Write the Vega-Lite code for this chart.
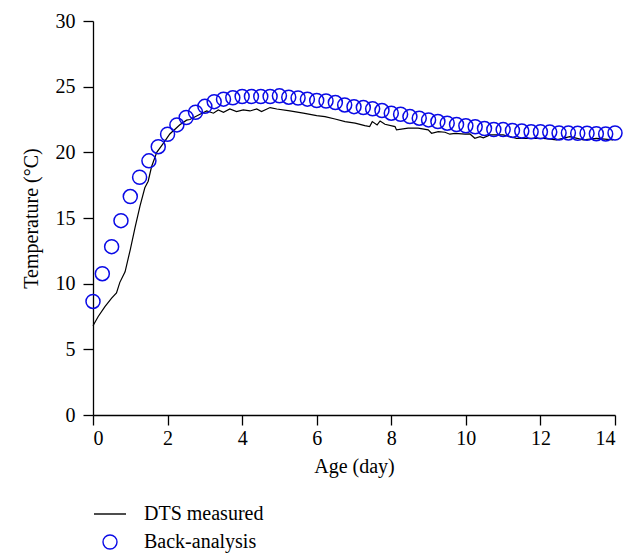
{
  "$schema": "https://vega.github.io/schema/vega-lite/v6.json",
  "autosize": {"type": "none"},
  "width": 522,
  "height": 394,
  "padding": {"left": 93, "top": 21, "right": 19, "bottom": 139},
  "background": "white",
  "config": {
    "view": {"stroke": null},
    "font": "Liberation Serif",
    "axis": {
      "labelFont": "Liberation Serif",
      "titleFont": "Liberation Serif",
      "labelFontSize": 20,
      "titleFontSize": 20,
      "titleFontWeight": "normal",
      "labelColor": "black",
      "titleColor": "black",
      "domainColor": "black",
      "tickColor": "black",
      "domainWidth": 1.3,
      "tickWidth": 1.3,
      "tickSize": 10,
      "grid": false
    },
    "legend": {
      "labelFont": "Liberation Serif",
      "labelFontSize": 20,
      "labelColor": "black"
    }
  },
  "datasets": {
    "dts": [
      {"age": 0, "temp": 6.8}, {"age": 0.14, "temp": 7.5}, {"age": 0.32, "temp": 8.25},
      {"age": 0.5, "temp": 8.9}, {"age": 0.63, "temp": 9.3}, {"age": 0.72, "temp": 10.1},
      {"age": 0.86, "temp": 10.9}, {"age": 1.0, "temp": 12.6}, {"age": 1.13, "temp": 14.3},
      {"age": 1.26, "temp": 15.9}, {"age": 1.39, "temp": 17.3}, {"age": 1.48, "temp": 17.8},
      {"age": 1.57, "temp": 18.9}, {"age": 1.71, "temp": 20.0}, {"age": 1.89, "temp": 20.7},
      {"age": 2.06, "temp": 21.4}, {"age": 2.33, "temp": 22.1}, {"age": 2.51, "temp": 22.45},
      {"age": 2.6, "temp": 22.5}, {"age": 2.87, "temp": 22.9}, {"age": 3.05, "temp": 23.15},
      {"age": 3.23, "temp": 22.98}, {"age": 3.36, "temp": 23.23}, {"age": 3.5, "temp": 23.05},
      {"age": 3.67, "temp": 23.3}, {"age": 3.85, "temp": 23.1}, {"age": 4.03, "temp": 23.23},
      {"age": 4.21, "temp": 23.15}, {"age": 4.39, "temp": 23.3}, {"age": 4.52, "temp": 23.1},
      {"age": 4.75, "temp": 23.41}, {"age": 4.93, "temp": 23.3}, {"age": 5.28, "temp": 23.15},
      {"age": 5.64, "temp": 22.98}, {"age": 6.0, "temp": 22.8}, {"age": 6.22, "temp": 22.72},
      {"age": 6.49, "temp": 22.54}, {"age": 6.76, "temp": 22.34}, {"age": 7.03, "temp": 22.22},
      {"age": 7.29, "temp": 22.03}, {"age": 7.42, "temp": 21.96}, {"age": 7.49, "temp": 22.34},
      {"age": 7.62, "temp": 22.09}, {"age": 7.7, "temp": 22.39}, {"age": 7.83, "temp": 22.14},
      {"age": 8.1, "temp": 21.96}, {"age": 8.14, "temp": 21.71}, {"age": 8.45, "temp": 21.84},
      {"age": 8.72, "temp": 21.84}, {"age": 8.99, "temp": 21.71}, {"age": 9.08, "temp": 21.45},
      {"age": 9.26, "temp": 21.58}, {"age": 9.44, "temp": 21.53}, {"age": 9.57, "temp": 21.38},
      {"age": 9.71, "temp": 21.45}, {"age": 9.98, "temp": 21.38}, {"age": 10.11, "temp": 21.4},
      {"age": 10.24, "temp": 21.07}, {"age": 10.38, "temp": 21.2}, {"age": 10.47, "temp": 21.1},
      {"age": 10.65, "temp": 21.33}, {"age": 11.0, "temp": 21.33}, {"age": 11.36, "temp": 21.07},
      {"age": 11.72, "temp": 21.07}, {"age": 12.08, "temp": 21.07}, {"age": 12.43, "temp": 20.95},
      {"age": 12.79, "temp": 21.2}, {"age": 13.15, "temp": 20.95}, {"age": 13.5, "temp": 21.07},
      {"age": 13.95, "temp": 20.95}
    ],
    "back": [
      {"age": 0, "temp": 8.65}, {"age": 0.25, "temp": 10.76}, {"age": 0.5, "temp": 12.82},
      {"age": 0.75, "temp": 14.8}, {"age": 1.0, "temp": 16.63}, {"age": 1.25, "temp": 18.1},
      {"age": 1.5, "temp": 19.35}, {"age": 1.75, "temp": 20.43}, {"age": 2.0, "temp": 21.38},
      {"age": 2.25, "temp": 22.09}, {"age": 2.5, "temp": 22.65}, {"age": 2.75, "temp": 23.05},
      {"age": 3.0, "temp": 23.5}, {"age": 3.25, "temp": 23.86}, {"age": 3.5, "temp": 24.05},
      {"age": 3.75, "temp": 24.15}, {"age": 4.0, "temp": 24.25}, {"age": 4.25, "temp": 24.25},
      {"age": 4.5, "temp": 24.25}, {"age": 4.75, "temp": 24.25}, {"age": 5.0, "temp": 24.3},
      {"age": 5.25, "temp": 24.2}, {"age": 5.5, "temp": 24.14}, {"age": 5.75, "temp": 24.05},
      {"age": 6.0, "temp": 23.95}, {"age": 6.25, "temp": 23.91}, {"age": 6.5, "temp": 23.79},
      {"age": 6.75, "temp": 23.61}, {"age": 7.0, "temp": 23.48}, {"age": 7.25, "temp": 23.41},
      {"age": 7.5, "temp": 23.31}, {"age": 7.75, "temp": 23.18}, {"age": 8.0, "temp": 22.98},
      {"age": 8.25, "temp": 22.9}, {"age": 8.5, "temp": 22.72}, {"age": 8.75, "temp": 22.6},
      {"age": 9.0, "temp": 22.47}, {"age": 9.25, "temp": 22.34}, {"age": 9.5, "temp": 22.22},
      {"age": 9.75, "temp": 22.12}, {"age": 10.0, "temp": 22.02}, {"age": 10.25, "temp": 21.95},
      {"age": 10.5, "temp": 21.81}, {"age": 10.75, "temp": 21.74}, {"age": 11.0, "temp": 21.73},
      {"age": 11.25, "temp": 21.67}, {"age": 11.5, "temp": 21.62}, {"age": 11.75, "temp": 21.56},
      {"age": 12.0, "temp": 21.57}, {"age": 12.25, "temp": 21.54}, {"age": 12.5, "temp": 21.48},
      {"age": 12.75, "temp": 21.48}, {"age": 13.0, "temp": 21.45}, {"age": 13.25, "temp": 21.45},
      {"age": 13.5, "temp": 21.42}, {"age": 13.75, "temp": 21.4}, {"age": 14.0, "temp": 21.47}
    ]
  },
  "encoding": {
    "x": {
      "field": "age", "type": "quantitative",
      "scale": {"domain": [0, 14], "nice": false},
      "axis": {"values": [0, 2, 4, 6, 8, 10, 12, 14], "title": "Age (day)", "labelPadding": 3, "titlePadding": 8}
    },
    "y": {
      "field": "temp", "type": "quantitative",
      "scale": {"domain": [0, 30], "nice": false},
      "axis": {"values": [0, 5, 10, 15, 20, 25, 30], "title": "Temperature (°C)", "labelPadding": 8, "titlePadding": 14}
    }
  },
  "layer": [
    {
      "data": {"name": "dts"},
      "transform": [{"calculate": "'DTS measured'", "as": "series"}],
      "mark": {"type": "line", "strokeWidth": 1.2},
      "encoding": {
        "color": {
          "field": "series", "type": "nominal",
          "scale": {"domain": ["DTS measured", "Back-analysis"], "range": ["black", "#0a0ae6"]},
          "legend": {
            "orient": "none", "legendX": 0, "legendY": 476, "title": null,
            "rowPadding": 8, "labelOffset": 17, "symbolStrokeWidth": 1.4, "symbolOpacity": 1,
            "encode": {"symbols": {"update": {"fill": {"value": "transparent"}, "opacity": {"value": 1}}}}
          }
        }
      }
    },
    {
      "data": {"name": "back"},
      "transform": [{"calculate": "'Back-analysis'", "as": "series"}],
      "mark": {"type": "point", "filled": false, "strokeWidth": 1.5, "opacity": 1},
      "encoding": {
        "color": {"field": "series", "type": "nominal"},
        "shape": {
          "field": "series", "type": "nominal",
          "scale": {"domain": ["DTS measured", "Back-analysis"], "range": ["stroke", "circle"]}
        },
        "size": {
          "field": "series", "type": "nominal",
          "scale": {"domain": ["DTS measured", "Back-analysis"], "range": [1024, 196]}
        }
      }
    }
  ]
}
